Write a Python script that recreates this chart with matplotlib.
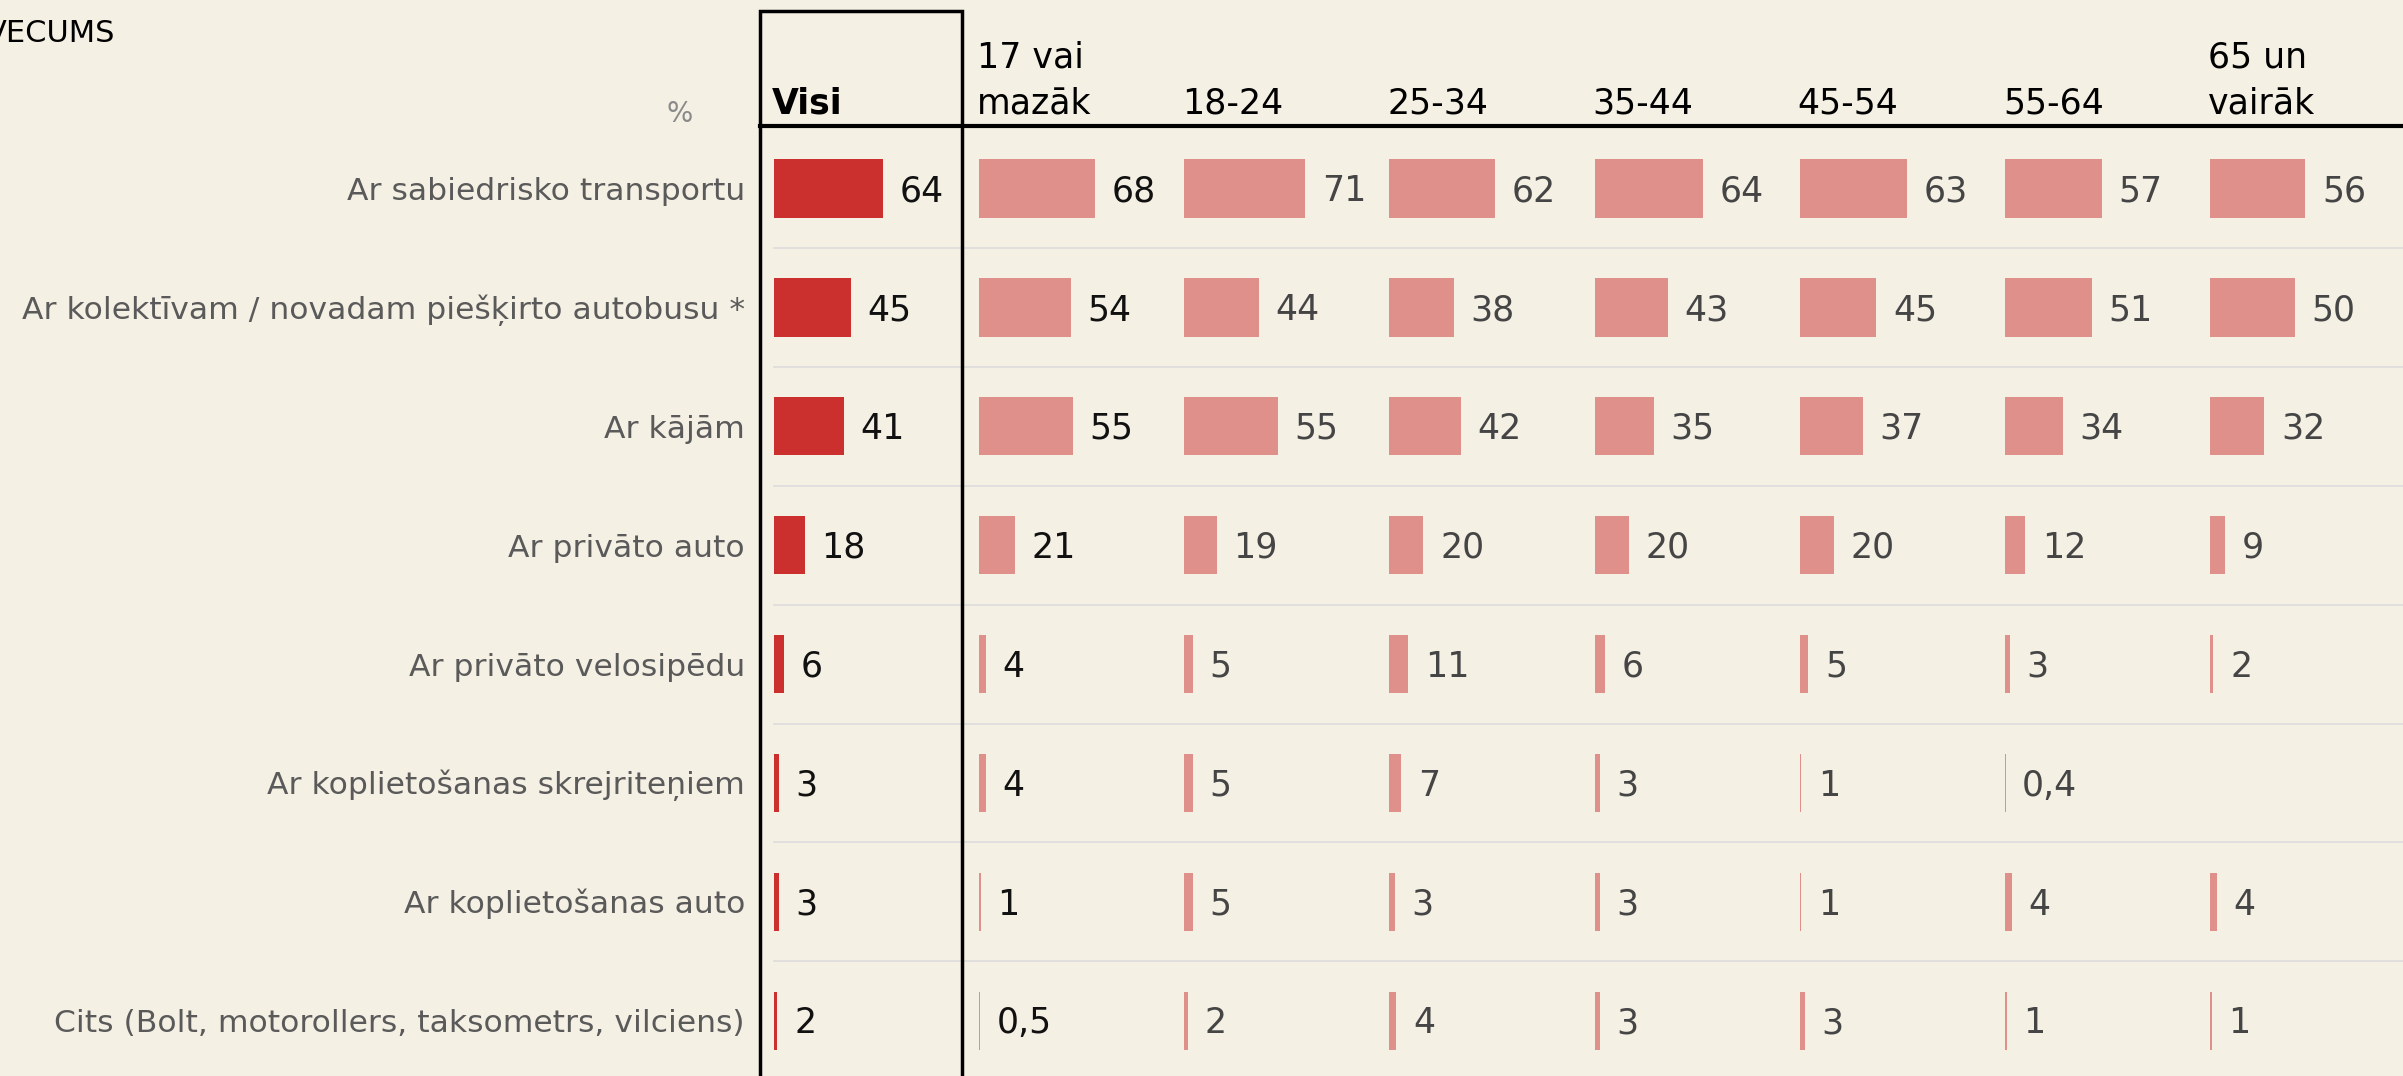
import matplotlib
matplotlib.use("Agg")
import matplotlib.pyplot as plt
from matplotlib.lines import Line2D
from matplotlib.patches import Rectangle
import numpy as np

# ---------------- data ----------------
categories = [
    "Ar sabiedrisko transportu",
    "Ar kolektīvam / novadam piešķirto autobusu *",
    "Ar kājām",
    "Ar privāto auto",
    "Ar privāto velosipēdu",
    "Ar koplietošanas skrejriteņiem",
    "Ar koplietošanas auto",
    "Cits (Bolt, motorollers, taksometrs, vilciens)",
]
columns = ["Visi", "17 vai\nmazāk", "18-24", "25-34", "35-44", "45-54", "55-64", "65 un\nvairāk"]
visi      = [64, 45, 41, 18, 6, 3, 3, 2]
age_17    = [68, 54, 55, 21, 4, 4, 1, 0.5]
age_18_24 = [71, 44, 55, 19, 5, 5, 5, 2]
age_25_34 = [62, 38, 42, 20, 11, 7, 3, 4]
age_35_44 = [64, 43, 35, 20, 6, 3, 3, 3]
age_45_54 = [63, 45, 37, 20, 5, 1, 1, 3]
age_55_64 = [57, 51, 34, 12, 3, 0.4, 4, 1]
age_65    = [56, 50, 32, 9, 2, None, 4, 1]
series = [visi, age_17, age_18_24, age_25_34, age_35_44, age_45_54, age_55_64, age_65]

# ---------------- style ----------------
W, H = 2403, 1076
BG = "#f5f0e4"
RED = "#cc302e"
SALMON = "#e0908a"
NUM_FONT = ["DejaVu Sans"]
CAT_FONT = ["DejaVu Sans"]
NUM_SIZE = 25
CAT_SIZE = 22.6

fig = plt.figure(figsize=(W / 100, H / 100), dpi=100)
fig.patch.set_facecolor(BG)

px_per_unit = 1.70
col_left0 = 774
col_pitch = 205.15
row0_y = 188.5
row_pitch = 118.9

ylim_top = -row0_y / row_pitch
ylim_bot = (H - row0_y) / row_pitch


def fx(px):
    return px / W


def fy(py):
    return 1 - py / H


def fmt(v):
    if float(v).is_integer():
        return str(int(v))
    return ("%g" % v).replace(".", ",")


rows = np.arange(len(categories))
for i, (col, vals) in enumerate(zip(columns, series)):
    left = col_left0 + i * col_pitch
    ax = fig.add_axes([fx(left), 0, col_pitch / W, 1])
    ax.set_xlim(0, col_pitch / px_per_unit)
    ax.set_ylim(ylim_bot, ylim_top)
    ax.axis("off")
    ax.patch.set_alpha(0)
    v = np.array([np.nan if x is None else x for x in vals], dtype=float)
    mask = ~np.isnan(v)
    ax.barh(rows[mask], v[mask], height=0.49, color=RED if i == 0 else SALMON, linewidth=0)
    lab_color = "#111111" if i < 2 else "#454545"
    for r, val in zip(rows[mask], v[mask]):
        ax.annotate(fmt(val), xy=(val, r), xytext=(12.0, -0.729 * NUM_SIZE / 2),
                    textcoords="offset points", ha="left", va="baseline",
                    fontsize=NUM_SIZE, color=lab_color, family=NUM_FONT)
    if i == 0:
        for r, cat in zip(rows, categories):
            ax.annotate(cat, xy=(0, r), xytext=(-20.9, -0.729 * CAT_SIZE / 2),
                        textcoords="offset points", ha="right", va="baseline",
                        fontsize=CAT_SIZE, color="#5a5a5a", family=CAT_FONT)
    # header
    lines = col.split("\n")
    hx = fx(left - 2)
    if len(lines) == 1:
        fig.text(hx, fy(113), lines[0], ha="left", va="baseline", fontsize=NUM_SIZE,
                 color="black", family=NUM_FONT, weight="bold" if i == 0 else "normal")
    else:
        fig.text(hx, fy(67), lines[0], ha="left", va="baseline", fontsize=NUM_SIZE,
                 color="black", family=NUM_FONT)
        fig.text(hx, fy(113), lines[1], ha="left", va="baseline", fontsize=NUM_SIZE,
                 color="black", family=NUM_FONT)

# separators
for k in range(len(categories) - 1):
    yk = row0_y + (k + 0.5) * row_pitch
    fig.add_artist(Line2D([fx(774), 1], [fy(yk), fy(yk)], transform=fig.transFigure,
                          color="#dcdcdc", lw=1.2, zorder=1))

# header line
fig.add_artist(Line2D([fx(760), 1], [fy(126), fy(126)], transform=fig.transFigure,
                      color="black", lw=3.0, zorder=5))
# Visi box
fig.add_artist(Rectangle((fx(760), fy(1100)), (962 - 760) / W, (1100 - 11) / H,
                         transform=fig.transFigure, fill=False, edgecolor="black", lw=2.5, zorder=6))

fig.text(fx(115), fy(42), "VECUMS", ha="right", va="baseline", fontsize=22,
         color="black", family=NUM_FONT)
fig.text(fx(693), fy(122), "%", ha="right", va="baseline", fontsize=20,
         color="#8a8a8a", family=CAT_FONT)

fig.savefig("out.png", dpi=100, facecolor=BG)
